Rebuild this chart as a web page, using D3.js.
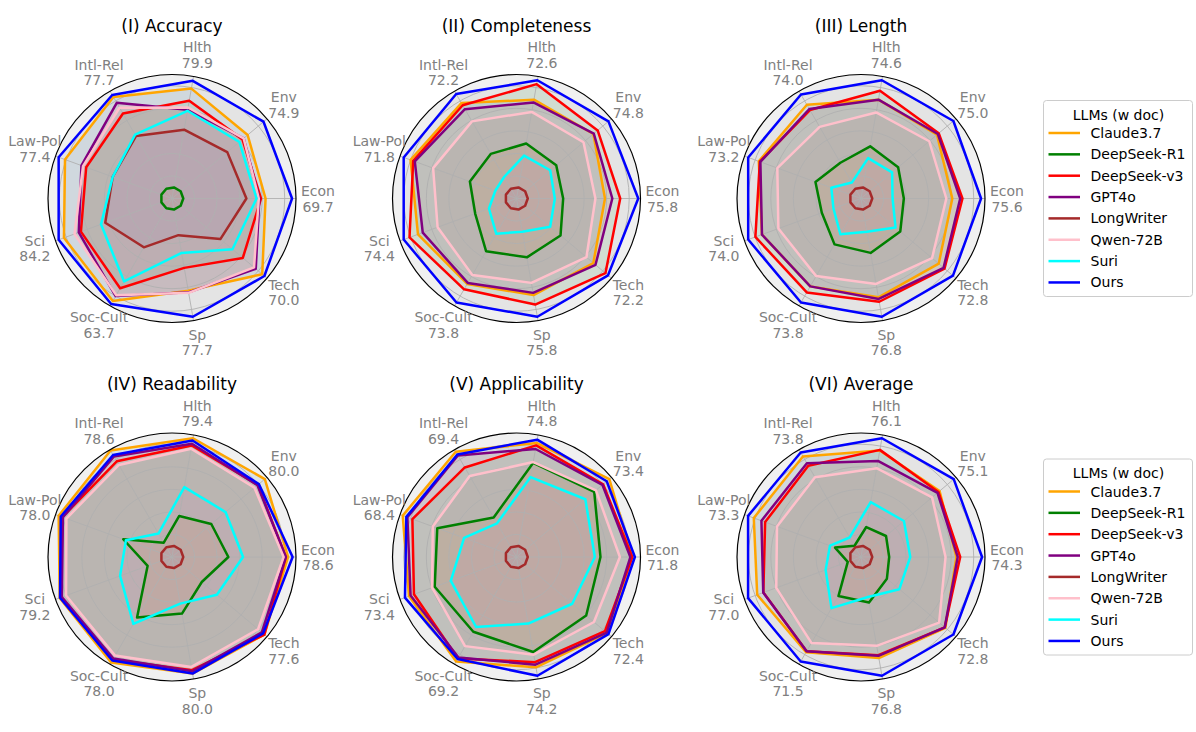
<!DOCTYPE html>
<html>
<head>
<meta charset="utf-8">
<script src="https://cdn.jsdelivr.net/npm/d3@7"></script>
<style>
  body { margin: 0; background: #fff; }
  svg { display: block; font-family: "DejaVu Sans", sans-serif; }
</style>
</head>
<body>
<div id="container"></div>
<script>
// categories in plotting order (counter-clockwise from east)
const categories = ["Econ", "Env", "Hlth", "Intl-Rel", "Law-Pol", "Sci", "Soc-Cult", "Sp", "Tech"];
const models = ["Claude3.7", "DeepSeek-R1", "DeepSeek-v3", "GPT4o", "LongWriter", "Qwen-72B", "Suri", "Ours"];
const lineColors = ["orange", "green", "red", "purple", "brown", "pink", "cyan", "blue"];
const fillColors = ["#1f77b4", "#ff7f0e", "#2ca02c", "#d62728", "#9467bd", "#8c564b", "#e377c2", "#7f7f7f"];

const chartTitles = ["(I) Accuracy", "(II) Completeness", "(III) Length", "(IV) Readability", "(V) Applicability", "(VI) Average"];

// values shown under each category name
const accuracyLabels = [69.7, 74.9, 79.9, 77.7, 77.4, 84.2, 63.7, 77.7, 70.0];
const completenessLabels = [75.8, 74.8, 72.6, 72.2, 71.8, 74.4, 73.8, 75.8, 72.2];
const lengthLabels = [75.6, 75.0, 74.6, 74.0, 73.2, 74.0, 73.8, 76.8, 72.8];
const readabilityLabels = [78.6, 80.0, 79.4, 78.6, 78.0, 79.2, 78.0, 80.0, 77.6];
const applicabilityLabels = [71.8, 73.4, 74.8, 69.4, 68.4, 73.4, 69.2, 74.2, 72.4];
const averageLabels = [74.3, 75.1, 76.1, 73.8, 73.3, 77.0, 71.5, 76.8, 72.8];

// normalized scores (radial axis 0 - 1.1), one row per model
const accuracyScores = [
    [0.83, 0.876, 0.99, 1.04, 1.01, 1.02, 1.05, 0.83, 1.045],
    [0.1, 0.1, 0.1, 0.1, 0.1, 0.1, 0.1, 0.1, 0.1],
    [0.79, 0.816, 0.88, 0.87, 0.81, 0.86, 0.92, 0.625, 0.82],
    [0.775, 0.83, 0.80, 0.98, 0.855, 0.88, 1.0, 0.845, 0.97],
    [0.66, 0.64, 0.62, 0.64, 0.56, 0.63, 0.50, 0.33, 0.56],
    [0.77, 0.83, 0.82, 0.93, 0.84, 0.92, 0.99, 0.85, 0.95],
    [0.75, 0.78, 0.79, 0.655, 0.56, 0.67, 0.85, 0.49, 0.70],
    [1.065, 1.06, 1.06, 1.06, 1.07, 1.07, 1.08, 1.065, 1.07]
];
const completenessScores = [
    [0.785, 0.89, 0.89, 0.977, 1.0, 0.93, 0.875, 0.87, 0.89],
    [0.414, 0.46, 0.495, 0.457, 0.44, 0.39, 0.54, 0.53, 0.51],
    [0.92, 0.94, 1.03, 0.955, 0.975, 1.01, 0.93, 0.955, 1.03],
    [0.85, 0.895, 0.865, 0.915, 0.96, 0.885, 0.865, 0.85, 0.915],
    [0.1, 0.1, 0.1, 0.1, 0.1, 0.1, 0.1, 0.1, 0.1],
    [0.70, 0.776, 0.78, 0.79, 0.787, 0.745, 0.784, 0.76, 0.81],
    [0.34, 0.39, 0.387, 0.22, 0.2, 0.26, 0.36, 0.30, 0.39],
    [1.08, 1.065, 1.065, 1.07, 1.065, 1.065, 1.065, 1.065, 1.06]
];
const lengthScores = [
    [0.81, 0.88, 0.89, 0.96, 0.965, 0.935, 0.9, 0.89, 0.9],
    [0.38, 0.43, 0.47, 0.366, 0.43, 0.37, 0.47, 0.49, 0.455],
    [0.9, 0.9, 0.97, 0.906, 0.955, 0.997, 0.962, 0.93, 0.967],
    [0.88, 0.89, 0.89, 0.917, 0.95, 0.935, 0.9, 0.905, 0.956],
    [0.1, 0.1, 0.1, 0.1, 0.1, 0.1, 0.1, 0.1, 0.1],
    [0.757, 0.79, 0.775, 0.734, 0.79, 0.78, 0.795, 0.77, 0.823],
    [0.28, 0.36, 0.364, 0.163, 0.28, 0.26, 0.366, 0.30, 0.40],
    [1.065, 1.07, 1.065, 1.065, 1.065, 1.065, 1.065, 1.065, 1.065]
];
const readabilityScores = [
    [1.03, 1.075, 1.07, 1.09, 1.07, 1.06, 1.08, 1.05, 1.07],
    [0.5, 0.455, 0.37, 0.146, 0.46, 0.23, 0.62, 0.51, 0.345],
    [1.01, 0.995, 1.005, 0.98, 1.035, 1.05, 1.05, 1.02, 1.07],
    [1.01, 0.99, 1.02, 1.03, 1.03, 1.04, 1.04, 1.03, 1.04],
    [0.1, 0.1, 0.1, 0.1, 0.1, 0.1, 0.1, 0.1, 0.1],
    [0.99, 0.955, 0.975, 0.943, 0.997, 1.0, 1.01, 0.99, 0.997],
    [0.63, 0.62, 0.63, 0.24, 0.435, 0.49, 0.685, 0.42, 0.52],
    [1.07, 1.006, 1.05, 1.045, 1.05, 1.057, 1.06, 1.05, 1.055]
];
const applicabilityScores = [
    [1.027, 1.075, 1.027, 1.078, 1.074, 1.015, 1.07, 0.994, 1.05],
    [0.745, 0.9, 0.847, 0.405, 0.748, 0.772, 0.766, 0.856, 0.807],
    [1.027, 1.003, 1.005, 0.917, 0.983, 0.968, 1.04, 0.947, 1.024],
    [1.01, 0.995, 0.973, 1.04, 1.03, 1.0, 1.03, 0.97, 1.045],
    [0.1, 0.1, 0.1, 0.1, 0.1, 0.1, 0.1, 0.1, 0.1],
    [0.917, 0.92, 0.855, 0.83, 0.79, 0.797, 0.913, 0.88, 0.897],
    [0.695, 0.797, 0.72, 0.345, 0.495, 0.62, 0.717, 0.60, 0.645],
    [1.05, 1.045, 1.057, 1.05, 1.04, 1.053, 1.045, 1.07, 1.065]
];
const averageScores = [
    [0.846, 0.91, 0.96, 1.03, 1.012, 0.98, 0.975, 0.91, 0.977],
    [0.25, 0.29, 0.27, 0.115, 0.245, 0.125, 0.40, 0.41, 0.30],
    [0.88, 0.897, 0.965, 0.935, 0.905, 0.922, 0.965, 0.885, 0.97],
    [0.858, 0.886, 0.865, 0.96, 0.94, 0.923, 0.965, 0.89, 0.97],
    [0.1, 0.1, 0.1, 0.1, 0.1, 0.1, 0.1, 0.1, 0.1],
    [0.75, 0.823, 0.8, 0.816, 0.793, 0.8, 0.88, 0.8, 0.905],
    [0.437, 0.497, 0.495, 0.2, 0.293, 0.334, 0.524, 0.36, 0.444],
    [1.074, 1.074, 1.07, 1.07, 1.066, 1.066, 1.07, 1.07, 1.07]
];

const radialTicks = [0.2, 0.4, 0.6, 0.8, 1.0];

const charts = [
    { title: chartTitles[0], labels: accuracyLabels, scores: accuracyScores },
    { title: chartTitles[1], labels: completenessLabels, scores: completenessScores },
    { title: chartTitles[2], labels: lengthLabels, scores: lengthScores },
    { title: chartTitles[3], labels: readabilityLabels, scores: readabilityScores },
    { title: chartTitles[4], labels: applicabilityLabels, scores: applicabilityScores },
    { title: chartTitles[5], labels: averageLabels, scores: averageScores }
];

const width = 1196;
const height = 732;
const outerR = 124;
const labelR = 146;

const svg = d3.select("#container").append("svg")
    .attr("width", width)
    .attr("height", height);

const r = d3.scaleLinear().domain([0, 1.1]).range([0, outerR]);

// angle in d3 radial convention (clockwise from 12 o'clock)
const angleOf = k => Math.PI / 2 - k * 2 * Math.PI / categories.length;

const radarLine = d3.lineRadial()
    .angle((d, k) => angleOf(k))
    .radius(d => r(d))
    .curve(d3.curveLinearClosed);

charts.forEach((chart, i) => {
    const col = i % 3, row = Math.floor(i / 3);
    const cx = 172 + col * 344.5;
    const cy = 198.5 + row * 358.5;

    const g = svg.append("g").attr("transform", `translate(${cx},${cy})`);

    // polar face
    g.append("circle").attr("r", outerR).attr("fill", "#f0f0f0");

    // fills first (patches sit below the grid)
    g.append("g").selectAll("path")
        .data(chart.scores)
        .join("path")
        .attr("d", d => radarLine(d))
        .attr("fill", (d, m) => fillColors[m])
        .attr("fill-opacity", 0.1)
        .attr("stroke", "none");

    // grid
    const grid = g.append("g").attr("stroke", "#b0b0b0").attr("stroke-width", 0.9).attr("fill", "none");
    grid.selectAll("circle")
        .data(radialTicks)
        .join("circle")
        .attr("r", d => r(d));
    grid.selectAll("line")
        .data(categories)
        .join("line")
        .attr("x1", 0).attr("y1", 0)
        .attr("x2", (d, k) => outerR * Math.sin(angleOf(k)))
        .attr("y2", (d, k) => -outerR * Math.cos(angleOf(k)));

    // model outlines
    g.append("g").selectAll("path")
        .data(chart.scores)
        .join("path")
        .attr("d", d => radarLine(d))
        .attr("fill", "none")
        .attr("stroke", (d, m) => lineColors[m])
        .attr("stroke-width", 2.5)
        .attr("stroke-linejoin", "round");

    // outer spine
    g.append("circle").attr("r", outerR)
        .attr("fill", "none").attr("stroke", "#000").attr("stroke-width", 1.2);

    // category labels
    const lab = g.append("g").attr("fill", "#808080").attr("font-size", 14).attr("text-anchor", "middle");
    categories.forEach((c, k) => {
        const a = angleOf(k);
        const lx = labelR * Math.sin(a);
        const ly = -labelR * Math.cos(a);
        const t = lab.append("text").attr("x", lx).attr("y", ly);
        t.append("tspan").attr("x", lx).attr("y", ly - 2.5).text(c);
        t.append("tspan").attr("x", lx).attr("y", ly + 13).text(chart.labels[k].toFixed(1));
    });

    g.append("text")
        .attr("x", 0).attr("y", -167)
        .attr("text-anchor", "middle")
        .attr("font-size", 17)
        .attr("fill", "#000")
        .text(chart.title);
});

// legends, one per row
[0, 1].forEach(row => {
    const lg = svg.append("g").attr("transform", `translate(1043.5, ${100.5 + row * 358.5})`);
    lg.append("rect")
        .attr("width", 149).attr("height", 196)
        .attr("rx", 3)
        .attr("fill", "#fff").attr("fill-opacity", 0.8)
        .attr("stroke", "#cccccc").attr("stroke-width", 1);
    lg.append("text")
        .attr("x", 75).attr("y", 19)
        .attr("text-anchor", "middle").attr("font-size", 14).attr("fill", "#000")
        .text("LLMs (w doc)");
    const items = lg.selectAll("g.item")
        .data(models)
        .join("g")
        .attr("class", "item")
        .attr("transform", (d, m) => `translate(0, ${32.5 + m * 21.35})`);
    items.append("line")
        .attr("x1", 5).attr("x2", 36.5)
        .attr("stroke", (d, m) => lineColors[m])
        .attr("stroke-width", 2.5);
    items.append("text")
        .attr("x", 47).attr("y", 5)
        .attr("font-size", 14).attr("fill", "#000")
        .text(d => d);
});
</script>
</body>
</html>
